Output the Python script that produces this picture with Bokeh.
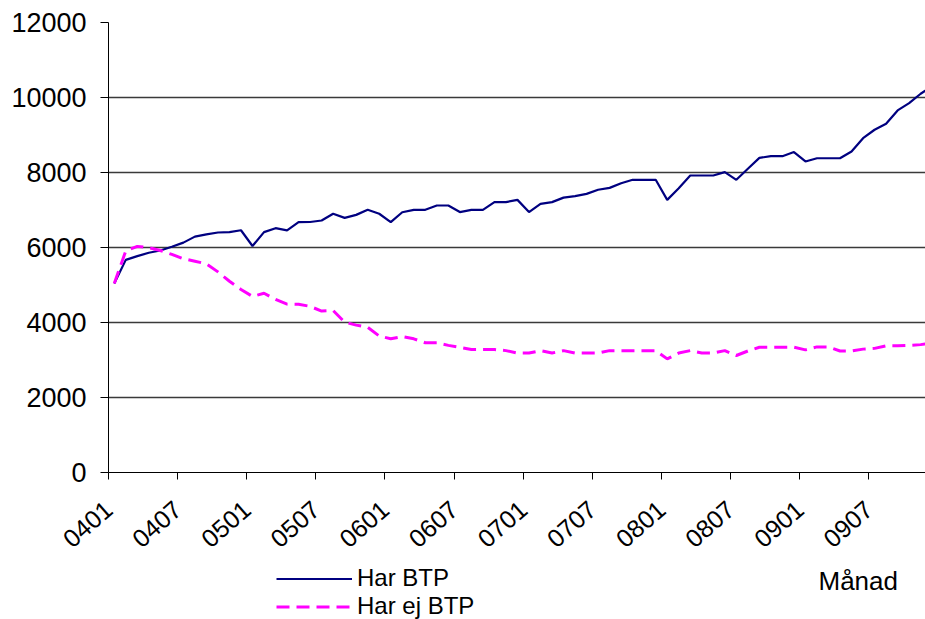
import math
from bokeh.plotting import figure
from bokeh.layouts import column
from bokeh.models import FixedTicker, Legend, LegendItem, Label, Range1d
from bokeh.embed import file_html
from bokeh.resources import INLINE

# Months 0401 .. 0912 (72 monthly categories)
months = [f"{y:02d}{m:02d}" for y in range(4, 10) for m in range(1, 13)]
tick_labels = ["0401", "0407", "0501", "0507", "0601", "0607",
               "0701", "0707", "0801", "0807", "0901", "0907"]

har_btp = [5040, 5670, 5770, 5860, 5920, 6020, 6130, 6290, 6350, 6400, 6410, 6460,
           6040, 6410, 6515, 6455, 6675, 6680, 6720, 6900, 6790, 6870, 7005, 6900,
           6675, 6940, 7005, 7005, 7120, 7120, 6945, 7005, 7005, 7210, 7210, 7270,
           6945, 7165, 7210, 7330, 7370, 7430, 7540, 7590, 7715, 7805, 7805, 7805,
           7270, 7580, 7920, 7920, 7920, 8010, 7805, 8100, 8390, 8435, 8435, 8545,
           8295, 8380, 8380, 8380, 8560, 8915, 9140, 9300, 9655, 9850, 10100, 10300]

har_ej_btp = [5040, 5910, 6030, 5995, 5920, 5815, 5700, 5635, 5565, 5350, 5100, 4880,
              4695, 4780, 4615, 4490, 4485, 4430, 4305, 4320, 4010, 3930, 3870, 3640,
              3565, 3625, 3565, 3460, 3460, 3390, 3340, 3280, 3280, 3280, 3250, 3185,
              3185, 3250, 3185, 3250, 3185, 3185, 3185, 3250, 3250, 3250, 3250, 3250,
              3030, 3185, 3250, 3185, 3185, 3250, 3120, 3240, 3340, 3340, 3340, 3340,
              3270, 3350, 3350, 3240, 3240, 3290, 3310, 3380, 3380, 3390, 3410, 3460]

series_names = ["Har BTP", "Har ej BTP"]
x_title = "Månad"
y_ticks = [0, 2000, 4000, 6000, 8000, 10000, 12000]

FONT = "Liberation Sans"
NAVY = "#000080"
MAGENTA = "#FF00FF"
DASH = "13 7"

# category centres
xs = [i + 0.5 for i in range(len(months))]
tick_pos = [months.index(t) for t in tick_labels]
X_END = 70.92

LEFT = 108
FRAME_BOTTOM = 472
H1 = 564
p = figure(width=925, height=H1,
           x_range=Range1d(0, X_END), y_range=Range1d(0, 12000),
           output_backend="svg", toolbar_location=None,
           min_border_left=LEFT, min_border_right=0,
           min_border_top=22, min_border_bottom=H1 - FRAME_BOTTOM)
p.outline_line_color = None
p.background_fill_color = "white"
p.border_fill_color = "white"

# grid
p.xgrid.visible = False
p.ygrid.ticker = FixedTicker(ticks=y_ticks)
p.ygrid.grid_line_color = "#3a3a3a"
p.ygrid.grid_line_width = 1.3

# y axis
p.yaxis.ticker = FixedTicker(ticks=y_ticks)
p.yaxis.major_label_text_font = FONT
p.yaxis.major_label_text_font_size = "27px"
p.yaxis.major_label_text_color = "black"
p.yaxis.major_tick_out = 8
p.yaxis.major_tick_in = 0
p.yaxis.minor_tick_line_color = None
p.yaxis.axis_line_color = "black"
p.yaxis.major_tick_line_color = "black"
p.yaxis.major_label_standoff = 14

# x axis with rotated month labels
p.xaxis.ticker = FixedTicker(ticks=tick_pos)
p.xaxis.major_label_overrides = {tp: lab for tp, lab in zip(tick_pos, tick_labels)}
p.xaxis.major_label_orientation = 0.72
p.xaxis.major_label_text_font = FONT
p.xaxis.major_label_text_font_size = "25px"
p.xaxis.major_label_text_color = "black"
p.xaxis.major_label_standoff = 26
p.xaxis.major_tick_out = 7
p.xaxis.major_tick_in = 0
p.xaxis.minor_tick_line_color = None
p.xaxis.axis_line_color = "black"
p.xaxis.major_tick_line_color = "black"

p.line(xs, har_btp, line_color=NAVY, line_width=2.2)
p.line(xs, har_ej_btp, line_color=MAGENTA, line_width=3, line_dash=DASH)

# lower strip: legend and axis title (x range in screen pixels)
H2 = 619 - H1
p2 = figure(width=925, height=H2, x_range=Range1d(LEFT, 925), y_range=Range1d(0, H2),
            output_backend="svg", toolbar_location=None,
            x_axis_location=None, y_axis_location=None,
            min_border_left=LEFT, min_border_right=0,
            min_border_top=0, min_border_bottom=0)
p2.outline_line_color = None
p2.xgrid.visible = False
p2.ygrid.visible = False
p2.background_fill_color = "white"
p2.border_fill_color = "white"

# legend proxies (kept outside the visible strip)
d1 = p2.line([0, 1], [-50, -50], line_color=NAVY, line_width=2.2)
d2 = p2.line([0, 1], [-50, -50], line_color=MAGENTA, line_width=3, line_dash=DASH)

legend = Legend(items=[LegendItem(label=series_names[0], renderers=[d1]),
                       LegendItem(label=series_names[1], renderers=[d2])],
                location=(276 - LEFT, -1), orientation="vertical",
                glyph_width=76, glyph_height=25, label_height=25,
                spacing=0, padding=0, margin=0,
                border_line_color=None, background_fill_alpha=0,
                label_text_font=FONT, label_text_font_size="24px",
                label_text_color="black",
                label_standoff=5)
p2.add_layout(legend, "center")

p2.add_layout(Label(x=818, y=619 - 580, text=x_title, text_font=FONT,
                    text_font_size="26px", text_baseline="middle",
                    text_color="black"))

open("out.html", "w").write(file_html(column(p, p2, spacing=0), INLINE))
